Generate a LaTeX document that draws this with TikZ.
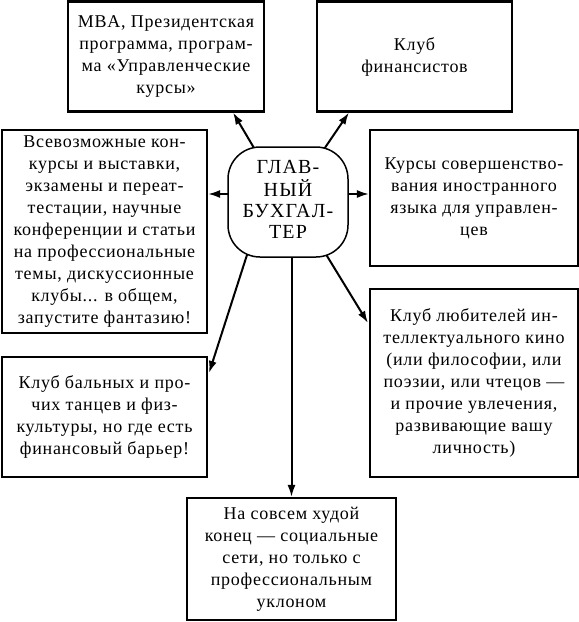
\documentclass[tikz,border=0pt]{standalone}
\usepackage{fontspec}
\setmainfont{Liberation Serif}[LetterSpace=4]
\usetikzlibrary{arrows.meta,calc,backgrounds}
\begin{document}
\begin{tikzpicture}[x=1pt,y=-1pt,
  box/.style={draw,line width=2.1pt,align=center,inner sep=0pt,
    font=\fontsize{18}{22}\selectfont},
  hub/.style={draw,line width=1.5pt,rounded corners=32pt,fill=white,align=center,
    inner sep=0pt,font=\fontsize{20}{21}\addfontfeatures{LetterSpace=6}\selectfont},
  arr/.style={line width=2pt,-{Latex[length=12pt,width=8pt]}}]
\useasboundingbox (0,0) rectangle (579,622);
\node[box,minimum width=196pt,minimum height=110pt] (mba) at (166,56.5)
  {MBA, Президентская\\программа, програм-\\ма «Управленческие\\курсы»};
\node[box,minimum width=195pt,minimum height=110pt] (fin) at (414.5,56.5)
  {Клуб\\финансистов};
\node[box,minimum width=205pt,minimum height=203pt] (konk) at (104.5,231.5)
  {Всевозможные кон-\\курсы и выставки,\\экзамены и переат-\\тестации, научные\\конференции и статьи\\на профессиональные\\темы, дискуссионные\\клубы... в общем,\\запустите фантазию!};
\node[box,minimum width=208pt,minimum height=136pt] (kurs) at (474,198)
  {Курсы совершенство-\\вания иностранного\\языка для управлен-\\цев};
\node[box,minimum width=208pt,minimum height=188pt] (kino) at (474,383)
  {Клуб любителей ин-\\теллектуального кино\\(или философии, или\\поэзии, или чтецов —\\и прочие увлечения,\\развивающие вашу\\личность)};
\node[box,minimum width=205pt,minimum height=120pt] (tanc) at (104.5,417)
  {Клуб бальных и про-\\чих танцев и физ-\\культуры, но где есть\\финансовый барьер!};
\node[box,minimum width=209pt,minimum height=122pt] (seti) at (291.5,559)
  {На совсем худой\\конец — социальные\\сети, но только с\\профессиональным\\уклоном};
\node[hub,minimum width=120pt,minimum height=110pt] (gb) at (288,202)
  {\raisebox{3pt}{\begin{tabular}{@{}c@{}}ГЛАВ-\\НЫЙ\\БУХГАЛ-\\ТЕР\end{tabular}}};
\begin{pgfonlayer}{background}
\draw[arr] ($(gb.center)+(-2,0)$) -- ($(mba.south east)+(-32,0)$);
\draw[arr] (gb.center) -- ($(fin.south west)+(33,0)$);
\draw[arr] ($(gb.center)+(0,-8)$) -- (konk.east |- 0,194);
\draw[arr] ($(gb.center)+(0,-8)$) -- (kurs.west |- 0,194);
\draw[arr] ($(gb.center)+(-24,0)$) -- ($(tanc.north east)+(1,17)$);
\draw[arr] ($(gb.center)+(6,0)$) -- ($(kino.north west)+(-1,35)$);
\draw[arr] (gb.center -| seti.north) -- (seti.north);
\end{pgfonlayer}
\end{tikzpicture}
\end{document}
